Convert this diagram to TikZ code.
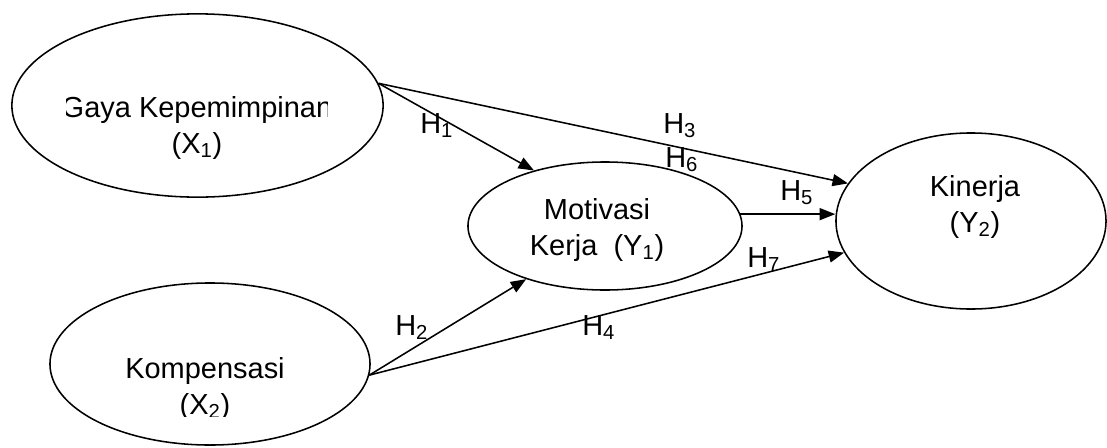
\documentclass[tikz,border=0pt]{standalone}
\usepackage{fontspec}
\setmainfont{Liberation Sans}
\usetikzlibrary{shapes.geometric, arrows.meta}

\tikzset{
    var/.style = {draw, ellipse, line width=1.1pt, inner sep=0pt},
    txt/.style = {align=center, inner sep=0pt, anchor=base, font=\fontsize{20.6}{24.9}\selectfont},
    hyp/.style = {anchor=base west, inner sep=0pt, font=\fontsize{20.6}{24.9}\selectfont},
    link/.style = {-{Triangle[length=11pt, width=8.5pt]}, line width=1.1pt}
}

\begin{document}
\begin{tikzpicture}[x=0.025cm, y=-0.025cm]
    \useasboundingbox (0, 0) rectangle (1107, 448);

    % variables
    \node[var, minimum width=9.28cm, minimum height=4.58cm] (gaya) at (197.5, 105.5) {};
    \node[var, minimum width=6.85cm, minimum height=3.2cm] (motivasi) at (605, 226) {};
    \node[var, minimum width=6.75cm, minimum height=4.4cm] (kinerja) at (971, 221) {};
    \node[var, minimum width=8.0cm, minimum height=4.05cm] (kompensasi) at (210, 364) {};

    \begin{scope}
        \clip (66, 80) rectangle (327, 170);
        \node[txt] (gayatxt) at (197, 153) {Gaya Kepemimpinan\\(X\textsubscript{1})};
    \end{scope}
    \node[txt] (motivasitxt) at (597, 255) {Motivasi\\Kerja\ \ (Y\textsubscript{1})};
    \node[txt] (kinerjatxt) at (975, 232) {Kinerja\\(Y\textsubscript{2})};
    \begin{scope}
        \clip (50, 340) rectangle (370, 416);
        \node[txt] (kompensasitxt) at (205, 414) {Kompensasi\\(X\textsubscript{2})};
    \end{scope}

    % paths
    \draw[link] (gaya.7) -- (motivasi.142);
    \draw[link] (gaya.7) -- (kinerja.163);
    \draw[link] (kompensasi.-4) -- (motivasi.214);
    \draw[link] (kompensasi.-4) -- (kinerja.194);
    \draw[link] (motivasi.5) -- (motivasi.5 -| kinerja.west);

    % hypotheses
    \node[hyp] (h1) at (420, 133) {H\textsubscript{1}};
    \node[hyp] (h2) at (395, 335) {H\textsubscript{2}};
    \node[hyp] (h3) at (663, 133) {H\textsubscript{3}};
    \node[hyp] (h4) at (582, 335) {H\textsubscript{4}};
    \node[hyp] (h5) at (780, 200) {H\textsubscript{5}};
    \node[hyp] (h6) at (665, 167) {H\textsubscript{6}};
    \node[hyp] (h7) at (747, 267) {H\textsubscript{7}};
\end{tikzpicture}
\end{document}
